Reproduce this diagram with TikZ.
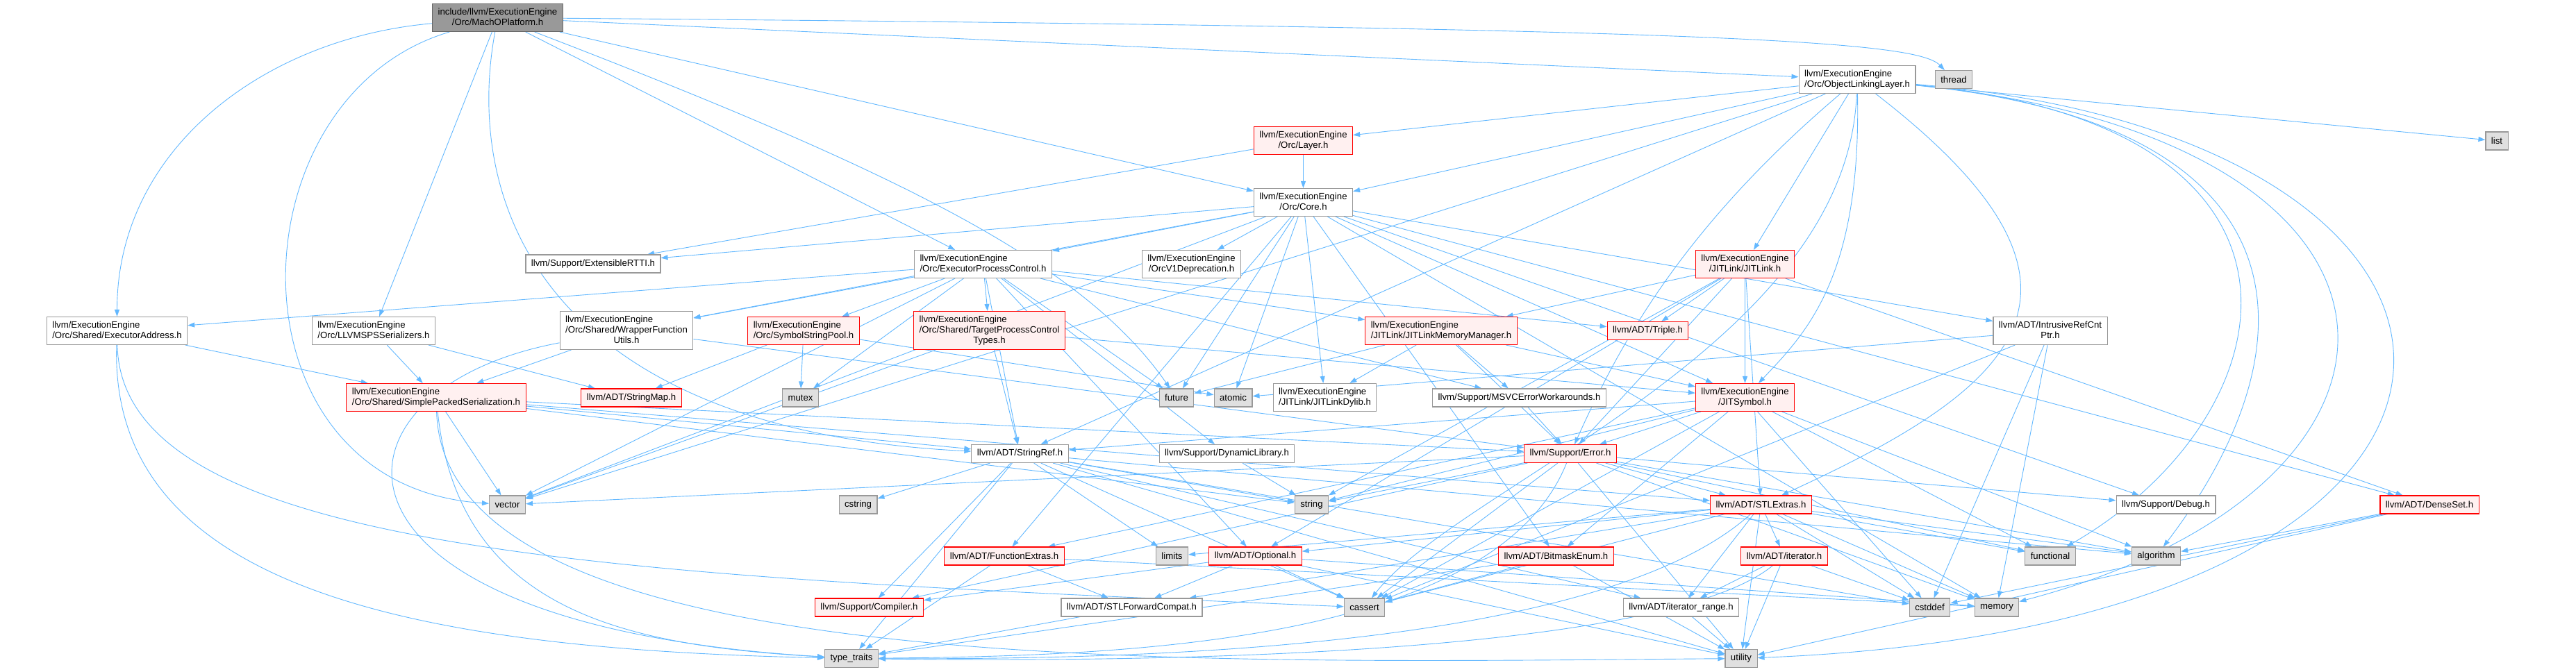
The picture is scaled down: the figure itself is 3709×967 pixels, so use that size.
\documentclass[tikz,border=0pt]{standalone}
\usepackage{fontspec}
\setmainfont{Liberation Sans}
\usepackage{xcolor}
\usepackage{tikz}
\usetikzlibrary{arrows.meta,backgrounds}
\definecolor{edgec}{HTML}{63B8FF}
\definecolor{boxc}{HTML}{999999}
\definecolor{sysc}{HTML}{E0E0E0}
\definecolor{redc}{HTML}{FF0000}
\definecolor{pinkc}{HTML}{FFF0F0}
\definecolor{mainc}{HTML}{999999}
\definecolor{mainl}{HTML}{666666}
% last line centred, the others flush left
\newcommand{\twol}[2]{\begin{tabular}{@{}l@{}}#1\\\multicolumn{1}{@{}c@{}}{#2}\end{tabular}}
\newcommand{\threel}[3]{\begin{tabular}{@{}l@{}}#1\\#2\\\multicolumn{1}{@{}c@{}}{#3}\end{tabular}}

\begin{document}
\begin{tikzpicture}[x=1pt,y=-1pt,
  filebox/.style={draw=boxc,fill=white,line width=1.1pt,inner xsep=8pt,inner ysep=5pt,
    minimum height=26pt,font=\fontsize{13.2}{15}\selectfont},
  redbox/.style={filebox,draw=redc,fill=pinkc},
  sysbox/.style={filebox,fill=sysc},
  mainbox/.style={filebox,draw=mainl,fill=mainc},
  dep/.style={draw=edgec,line width=0.9pt,-{Triangle[length=10pt,width=7pt]}}]
  \useasboundingbox (0,0) rectangle (3709,967);

  % row 0
  \node[mainbox] (main) at (716.5,25.5) {\twol{include/llvm/ExecutionEngine}{/Orc/MachOPlatform.h}};
  \node[filebox] (objlink) at (2674,114.5) {\twol{llvm/ExecutionEngine}{/Orc/ObjectLinkingLayer.h}};
  \node[sysbox] (thread) at (2813,114.5) {thread};
  \node[sysbox] (list) at (3595,203) {list};
  \node[redbox] (layer) at (1876.5,202.5) {\twol{llvm/ExecutionEngine}{/Orc/Layer.h}};
  \node[filebox] (core) at (1876.5,291.5) {\twol{llvm/ExecutionEngine}{/Orc/Core.h}};

  % rows 1 and 2
  \node[filebox] (rtti) at (854,380) {llvm/Support/ExtensibleRTTI.h};
  \node[filebox] (epc) at (1415.5,380.5) {\twol{llvm/ExecutionEngine}{/Orc/ExecutorProcessControl.h}};
  \node[filebox] (orcv1) at (1715.5,380.5) {\twol{llvm/ExecutionEngine}{/OrcV1Deprecation.h}};
  \node[redbox] (jitlink) at (2512.5,380.5) {\twol{llvm/ExecutionEngine}{/JITLink/JITLink.h}};
  \node[filebox] (execaddr) at (168.5,476.5) {\twol{llvm/ExecutionEngine}{/Orc/Shared/ExecutorAddress.h}};
  \node[filebox] (spsser) at (538,476.5) {\twol{llvm/ExecutionEngine}{/Orc/LLVMSPSSerializers.h}};
  \node[filebox] (wrapper) at (902,476) {\threel{llvm/ExecutionEngine}{/Orc/Shared/WrapperFunction}{Utils.h}};
  \node[redbox] (ssp) at (1157,476.5) {\twol{llvm/ExecutionEngine}{/Orc/SymbolStringPool.h}};
  \node[redbox] (tpct) at (1424.5,476) {\threel{llvm/ExecutionEngine}{/Orc/Shared/TargetProcessControl}{Types.h}};
  \node[redbox] (jlmm) at (2075,476.5) {\twol{llvm/ExecutionEngine}{/JITLink/JITLinkMemoryManager.h}};
  \node[redbox] (triple) at (2372.5,476.5) {llvm/ADT/Triple.h};
  \node[filebox] (ircp) at (2952,476.5) {\twol{llvm/ADT/IntrusiveRefCnt}{Ptr.h}};

  % row 3
  \node[redbox] (sps) at (628,572.5) {\twol{llvm/ExecutionEngine}{/Orc/Shared/SimplePackedSerialization.h}};
  \node[redbox] (stringmap) at (909,573) {llvm/ADT/StringMap.h};
  \node[sysbox] (mutex) at (1152.5,573) {mutex};
  \node[sysbox] (future) at (1694,573) {future};
  \node[sysbox] (atomic) at (1775.5,573) {atomic};
  \node[filebox] (jldylib) at (1907.5,572.5) {\twol{llvm/ExecutionEngine}{/JITLink/JITLinkDylib.h}};
  \node[filebox] (msvc) at (2187.5,573) {llvm/Support/MSVCErrorWorkarounds.h};
  \node[redbox] (jitsymbol) at (2512.5,572.5) {\twol{llvm/ExecutionEngine}{/JITSymbol.h}};

  % rows 4 and 5
  \node[filebox] (stringref) at (1468.5,653.5) {llvm/ADT/StringRef.h};
  \node[filebox] (dynlib) at (1766.5,653.5) {llvm/Support/DynamicLibrary.h};
  \node[redbox] (error) at (2261,653.5) {llvm/Support/Error.h};
  \node[sysbox] (vector) at (730.5,727) {vector};
  \node[sysbox] (cstring) at (1235.5,727) {cstring};
  \node[sysbox] (string) at (1888.5,727) {string};
  \node[redbox] (stlextras) at (2535.5,727) {llvm/ADT/STLExtras.h};
  \node[filebox] (debug) at (3118.5,727) {llvm/Support/Debug.h};
  \node[redbox] (denseset) at (3498,727) {llvm/ADT/DenseSet.h};

  % rows 6 to 8
  \node[redbox] (fextras) at (1446,801) {llvm/ADT/FunctionExtras.h};
  \node[sysbox] (limits) at (1687.5,801) {limits};
  \node[redbox] (optional) at (1807.5,801) {llvm/ADT/Optional.h};
  \node[redbox] (bitmask) at (2240.5,801) {llvm/ADT/BitmaskEnum.h};
  \node[redbox] (iterator) at (2569,801) {llvm/ADT/iterator.h};
  \node[sysbox] (functional) at (2952,801) {functional};
  \node[sysbox] (algorithm) at (3104.5,801) {algorithm};
  \node[redbox] (compiler) at (1251.5,875) {llvm/Support/Compiler.h};
  \node[filebox] (stlfwd) at (1629.5,875) {llvm/ADT/STLForwardCompat.h};
  \node[sysbox] (cassert) at (1964.5,875) {cassert};
  \node[filebox] (itrange) at (2420.5,875) {llvm/ADT/iterator\_range.h};
  \node[sysbox] (cstddef) at (2778.5,875) {cstddef};
  \node[sysbox] (memory) at (2875,875) {memory};
  \node[sysbox] (typetraits) at (1226,948.5) {type\_traits};
  \node[sysbox] (utility) at (2507,948.5) {utility};

  \begin{pgfonlayer}{background}
  % MachOPlatform.h
  \draw[dep] (main) to[out=185,in=90] (execaddr);
  \draw[dep] (main) .. controls (330,140) and (320,700) .. (vector);
  \draw[dep] (main) -- (spsser);
  \draw[dep] (main) .. controls (666,300) and (790,620) .. (stringref);
  \draw[dep] (main) -- (core);
  \draw[dep] (main) -- (epc);
  \draw[dep] (main) -- (objlink);
  \draw[dep] (main) .. controls (2500,40) and (2760,60) .. (thread);
  \draw[dep] (main) .. controls (1300,250) and (1560,380) .. (future);
  % ObjectLinkingLayer.h
  \draw[dep] (objlink) -- (layer);
  \draw[dep] (objlink) -- (core);
  \draw[dep] (objlink) -- (jitlink);
  \draw[dep] (objlink) .. controls (2680,400) and (2600,480) .. (jitsymbol);
  \draw[dep] (objlink) -- (stringref);
  \draw[dep] (objlink) .. controls (3070,420) and (2900,560) .. (stlextras);
  \draw[dep] (objlink) .. controls (2420,330) and (2330,500) .. (error);
  \draw[dep] (objlink) -- (list);
  \draw[dep] (objlink) .. controls (3334,180) and (3334,500) .. (algorithm);
  \draw[dep] (objlink) .. controls (3385,180) and (3300,600) .. (functional);
  \draw[dep] (objlink) .. controls (3540,200) and (3540,700) .. (memory);
  \draw[dep] (objlink) .. controls (3700,200) and (3720,900) .. (utility);
  \draw[dep] (objlink) .. controls (2660,500) and (2100,700) .. (cassert);
  \draw[dep] (objlink) -- (vector);
  % Layer.h
  \draw[dep] (layer) -- (core);
  \draw[dep] (layer) -- (rtti);
  % Core.h
  \draw[dep] (core) -- (epc);
  \draw[dep] (core) -- (orcv1);
  \draw[dep] (core) -- (wrapper);
  \draw[dep] (core) -- (rtti);
  \draw[dep] (core) -- (jldylib);
  \draw[dep] (core) -- (jitsymbol);
  \draw[dep] (core) -- (bitmask);
  \draw[dep] (core) -- (denseset);
  \draw[dep] (core) -- (fextras);
  \draw[dep] (core) -- (ircp);
  \draw[dep] (core) -- (debug);
  \draw[dep] (core) -- (atomic);
  \draw[dep] (core) -- (future);
  \draw[dep] (core) -- (memory);
  \draw[dep] (core) -- (vector);
  % ExecutorProcessControl.h
  \draw[dep] (epc) -- (execaddr);
  \draw[dep] (epc) -- (wrapper);
  \draw[dep] (epc) -- (ssp);
  \draw[dep] (epc) -- (tpct);
  \draw[dep] (epc) -- (jlmm);
  \draw[dep] (epc) -- (triple);
  \draw[dep] (epc) -- (optional);
  \draw[dep] (epc) -- (stringref);
  \draw[dep] (epc) -- (dynlib);
  \draw[dep] (epc) -- (msvc);
  \draw[dep] (epc) -- (future);
  \draw[dep] (epc) -- (mutex);
  \draw[dep] (epc) -- (vector);
  % Orc/Shared and friends
  \draw[dep] (execaddr) -- (sps);
  \draw[dep] (execaddr) .. controls (175,800) and (900,830) .. (cassert);
  \draw[dep] (execaddr) .. controls (157,850) and (600,935) .. (typetraits);
  \draw[dep] (spsser) -- (sps);
  \draw[dep] (spsser) -- (stringmap);
  \draw[dep] (wrapper) -- (sps);
  \draw[dep] (wrapper) -- (error);
  \draw[dep] (wrapper) .. controls (450,560) and (420,900) .. (typetraits);
  \draw[dep] (ssp) -- (stringmap);
  \draw[dep] (ssp) -- (atomic);
  \draw[dep] (ssp) -- (mutex);
  \draw[dep] (tpct) -- (stringref);
  \draw[dep] (tpct) -- (vector);
  \draw[dep] (tpct) -- (jitsymbol);
  \draw[dep] (sps) -- (stringref);
  \draw[dep] (sps) -- (error);
  \draw[dep] (sps) -- (stlextras);
  \draw[dep] (sps) -- (string);
  \draw[dep] (sps) -- (vector);
  \draw[dep] (sps) .. controls (660,880) and (900,930) .. (typetraits);
  \draw[dep] (sps) .. controls (640,980) and (1700,955) .. (utility);
  % JITLink
  \draw[dep] (jitlink) -- (jlmm);
  \draw[dep] (jitlink) -- (triple);
  \draw[dep] (jitlink) -- (jitsymbol);
  \draw[dep] (jitlink) -- (denseset);
  \draw[dep] (jitlink) -- (optional);
  \draw[dep] (jitlink) -- (stlextras);
  \draw[dep] (jitlink) -- (error);
  \draw[dep] (jitlink) -- (string);
  \draw[dep] (jlmm) -- (jldylib);
  \draw[dep] (jlmm) -- (jitsymbol);
  \draw[dep] (jlmm) -- (error);
  \draw[dep] (jlmm) -- (msvc);
  \draw[dep] (jlmm) -- (future);
  \draw[dep] (jitsymbol) -- (algorithm);
  \draw[dep] (jitsymbol) -- (cassert);
  \draw[dep] (jitsymbol) -- (cstddef);
  \draw[dep] (jitsymbol) -- (functional);
  \draw[dep] (jitsymbol) -- (string);
  \draw[dep] (jitsymbol) -- (bitmask);
  \draw[dep] (jitsymbol) -- (fextras);
  \draw[dep] (jitsymbol) -- (stringref);
  \draw[dep] (jitsymbol) -- (error);
  \draw[dep] (msvc) -- (error);
  % Support/Error.h
  \draw[dep] (error) -- (stlextras);
  \draw[dep] (error) -- (compiler);
  \draw[dep] (error) -- (debug);
  \draw[dep] (error) -- (algorithm);
  \draw[dep] (error) -- (cassert);
  \draw[dep] (error) -- (functional);
  \draw[dep] (error) -- (memory);
  \draw[dep] (error) -- (string);
  \draw[dep] (error) .. controls (2150,930) and (1600,945) .. (typetraits);
  \draw[dep] (error) -- (utility);
  \draw[dep] (error) -- (vector);
  % ADT/StringRef.h
  \draw[dep] (stringref) -- (itrange);
  \draw[dep] (stringref) -- (compiler);
  \draw[dep] (stringref) -- (algorithm);
  \draw[dep] (stringref) -- (cassert);
  \draw[dep] (stringref) -- (cstddef);
  \draw[dep] (stringref) -- (cstring);
  \draw[dep] (stringref) -- (limits);
  \draw[dep] (stringref) -- (string);
  \draw[dep] (stringref) -- (typetraits);
  \draw[dep] (stringref) -- (utility);
  \draw[dep] (dynlib) -- (string);
  \draw[dep] (ircp) -- (atomic);
  \draw[dep] (ircp) -- (cassert);
  \draw[dep] (ircp) -- (cstddef);
  \draw[dep] (ircp) -- (memory);
  \draw[dep] (denseset) -- (algorithm);
  \draw[dep] (denseset) -- (cstddef);
  \draw[dep] (denseset) -- (utility);
  % ADT/STLExtras.h
  \draw[dep] (stlextras) -- (optional);
  \draw[dep] (stlextras) -- (stlfwd);
  \draw[dep] (stlextras) -- (iterator);
  \draw[dep] (stlextras) -- (itrange);
  \draw[dep] (stlextras) -- (algorithm);
  \draw[dep] (stlextras) -- (cassert);
  \draw[dep] (stlextras) -- (cstddef);
  \draw[dep] (stlextras) -- (functional);
  \draw[dep] (stlextras) -- (limits);
  \draw[dep] (stlextras) -- (memory);
  \draw[dep] (stlextras) .. controls (2300,940) and (1600,950) .. (typetraits);
  \draw[dep] (stlextras) -- (utility);
  % the small ADT headers
  \draw[dep] (fextras) -- (stlfwd);
  \draw[dep] (fextras) -- (memory);
  \draw[dep] (fextras) -- (typetraits);
  \draw[dep] (optional) -- (stlfwd);
  \draw[dep] (optional) -- (compiler);
  \draw[dep] (optional) -- (cassert);
  \draw[dep] (optional) -- (memory);
  \draw[dep] (optional) -- (utility);
  \draw[dep] (stlfwd) -- (typetraits);
  \draw[dep] (bitmask) -- (cassert);
  \draw[dep] (bitmask) -- (typetraits);
  \draw[dep] (bitmask) -- (utility);
  \draw[dep] (iterator) -- (itrange);
  \draw[dep] (iterator) -- (cstddef);
  \draw[dep] (iterator) .. controls (2400,940) and (1700,955) .. (typetraits);
  \draw[dep] (iterator) -- (utility);
  \draw[dep] (itrange) -- (utility);
  \end{pgfonlayer}
\end{tikzpicture}
\end{document}
